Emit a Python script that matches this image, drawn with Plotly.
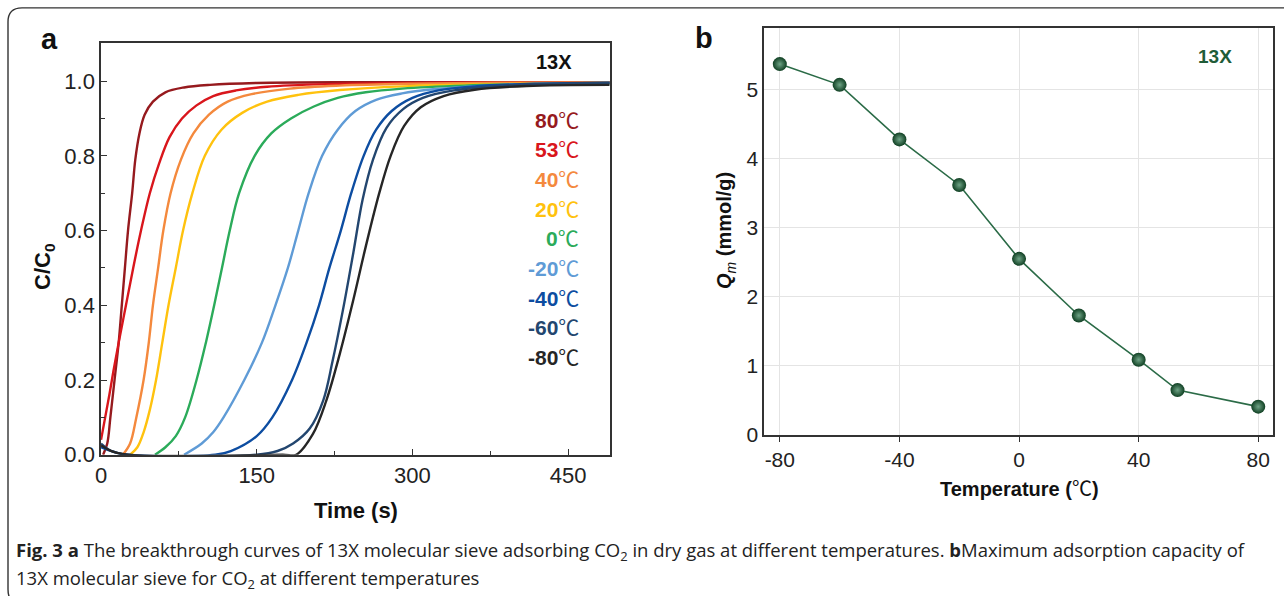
import plotly.graph_objects as go

W, H = 1284, 596

# ---------------- Panel a: breakthrough curves (time s, C/C0) ----------------
labels_a = ["80", "53", "40", "20", "0", "-20", "-40", "-60", "-80"]
colors_a = ["#961a1e", "#d9161c", "#f4893d", "#ffc20e", "#2bab5a",
            "#5f9bd6", "#0d4da1", "#23466f", "#262626"]

t_80 = [2, 6, 9, 13, 17, 20, 23, 26, 30, 33, 37, 42, 50, 62, 80, 105, 150, 250, 490]
c_80 = [0.0, 0.03, 0.1, 0.2, 0.3, 0.4, 0.5, 0.6, 0.7, 0.79, 0.86, 0.91, 0.945, 0.97, 0.983, 0.99, 0.995, 0.997, 0.997]

t_53 = [0, 4, 8, 12, 17, 24, 31, 38.5, 47, 56, 66, 78, 92, 108, 130, 160, 220, 320, 490]
c_53 = [0.04, 0.1, 0.16, 0.225, 0.3, 0.4, 0.5, 0.6, 0.7, 0.78, 0.85, 0.9, 0.935, 0.96, 0.975, 0.985, 0.992, 0.996, 0.997]

t_40 = [21, 28, 34, 41, 46, 50, 55, 60, 67, 77, 89, 104, 122, 145, 182, 230, 300, 390, 490]
c_40 = [0.0, 0.03, 0.1, 0.2, 0.3, 0.4, 0.5, 0.6, 0.7, 0.79, 0.86, 0.91, 0.945, 0.965, 0.98, 0.988, 0.993, 0.996, 0.997]

t_20 = [28, 35, 41, 47, 53, 59, 65, 72, 79, 88, 100, 116, 136, 160, 190, 230, 290, 380, 490]
c_20 = [0.0, 0.02, 0.06, 0.12, 0.2, 0.3, 0.4, 0.5, 0.6, 0.7, 0.8, 0.87, 0.915, 0.945, 0.963, 0.976, 0.986, 0.992, 0.995]

t_0 = [52, 62, 72, 81, 92, 101, 109, 116.5, 124, 133, 148, 164, 183, 205, 228, 255, 290, 350, 420, 490]
c_0 = [0.0, 0.02, 0.05, 0.1, 0.2, 0.3, 0.4, 0.5, 0.6, 0.7, 0.8, 0.86, 0.9, 0.932, 0.955, 0.97, 0.98, 0.988, 0.992, 0.994]

t_m20 = [80, 97, 108, 118, 138, 155, 168, 180, 190, 200, 213, 228, 245, 265, 290, 320, 370, 430, 490]
c_m20 = [0.0, 0.03, 0.06, 0.1, 0.2, 0.3, 0.4, 0.5, 0.6, 0.7, 0.8, 0.87, 0.92, 0.95, 0.967, 0.978, 0.988, 0.993, 0.995]

t_m40 = [0, 12, 25, 110, 125, 150, 165, 184, 198, 210, 220, 231, 241, 253, 265, 280, 300, 325, 360, 420, 490]
c_m40 = [0.02, 0.008, 0.0, 0.0, 0.01, 0.05, 0.1, 0.2, 0.3, 0.4, 0.5, 0.6, 0.7, 0.8, 0.87, 0.92, 0.955, 0.975, 0.986, 0.993, 0.996]

t_m60 = [0, 10, 25, 150, 170, 185, 201, 214, 223, 233, 243, 252, 262, 275, 291, 310, 340, 400, 490]
c_m60 = [0.03, 0.01, 0.0, 0.0, 0.01, 0.03, 0.07, 0.145, 0.25, 0.387, 0.54, 0.683, 0.79, 0.875, 0.925, 0.955, 0.975, 0.99, 0.995]

t_m80 = [0, 10, 25, 175, 188, 204, 217, 230, 243, 255, 268, 279, 292, 308, 330, 360, 410, 490]
c_m80 = [0.025, 0.01, 0.0, 0.0, 0.0, 0.055, 0.145, 0.27, 0.414, 0.557, 0.7, 0.8, 0.88, 0.93, 0.96, 0.977, 0.987, 0.99]

series_t = [t_80, t_53, t_40, t_20, t_0, t_m20, t_m40, t_m60, t_m80]
series_c = [c_80, c_53, c_40, c_20, c_0, c_m20, c_m40, c_m60, c_m80]

xticks_a = [0, 150, 300, 450]

# ---------------- Panel b: max adsorption capacity ----------------
temp_b = [-80, -60, -40, -20, 0, 20, 40, 53, 80]
qm_b = [5.37, 5.07, 4.28, 3.62, 2.55, 1.73, 1.09, 0.65, 0.41]
xticks_b = [-80, -40, 0, 40, 80]
xticklabels_b = ["-80", "-40", "0", "40", "80"]
yticks_b = [0, 1, 2, 3, 4, 5]

# the page is photographed slightly compressed: map target pixels to layout fractions
SX, OX = 0.995, 6.0
SY, OY = 0.974, 1.2


def fx(px):
    return ((px - OX) / SX) / W


def fy(py):
    return 1 - ((py - OY) / SY) / H


fig = go.Figure()

TICKFONT = "Liberation Sans Narrow, Liberation Sans, Arial, sans-serif"
BOLDFONT = "Liberation Sans, Arial, Noto Sans CJK SC, sans-serif"

for t, c, col, lab in zip(series_t, series_c, colors_a, labels_a):
    fig.add_trace(go.Scatter(
        x=t, y=c, mode="lines", name=lab + "℃",
        line=dict(color=col, width=2.4, shape="spline", smoothing=1.0),
        xaxis="x", yaxis="y", showlegend=False,
    ))

fig.add_trace(go.Scatter(
    x=temp_b, y=qm_b, mode="lines+markers",
    line=dict(color="#2b6b47", width=1.6),
    marker=dict(size=14, color="#0f3f22",
                gradient=dict(type="radial", color="#6fa486"),
                line=dict(width=0)),
    xaxis="x2", yaxis="y2", showlegend=False,
))

axline = dict(showline=True, linecolor="#333333", linewidth=1.5, mirror=True,
              zeroline=False)

fig.update_layout(
    width=W, height=H,
    margin=dict(l=0, r=0, t=0, b=0),
    paper_bgcolor="white", plot_bgcolor="white",
    showlegend=False,
    xaxis=dict(domain=[fx(101), fx(609.5)], range=[0, 490], anchor="y",
               tickmode="array", tickvals=xticks_a, ticks="inside", ticklen=6,
               tickwidth=1.3, tickcolor="#333333",
               minor=dict(tickmode="array", tickvals=[75, 225, 375], ticks="inside",
                          ticklen=4, tickcolor="#333333"),
               showgrid=False,
               tickfont=dict(family=TICKFONT, size=22, color="#222222"),
               **axline),
    yaxis=dict(domain=[fy(454), fy(44)], range=[0, 1.102], anchor="x",
               tickmode="linear", tick0=0, dtick=0.2, tickformat=".1f",
               ticks="inside", ticklen=6, tickwidth=1.3, tickcolor="#333333",
               minor=dict(dtick=0.1, ticks="inside", ticklen=4, tickcolor="#333333"),
               showgrid=False,
               tickfont=dict(family=TICKFONT, size=22, color="#222222"),
               **axline),
    xaxis2=dict(domain=[fx(764), fx(1272.5)], range=[-85.2, 84.9], anchor="y2",
                tickmode="array", tickvals=xticks_b, ticktext=xticklabels_b,
                ticks="outside", ticklen=5,
                tickwidth=1.3, tickcolor="#333333",
                showgrid=True, gridcolor="#e4e4e4", gridwidth=1,
                tickfont=dict(family=TICKFONT, size=21, color="#222222"),
                **axline),
    yaxis2=dict(domain=[fy(434.3), fy(28.6)], range=[0, 5.9], anchor="x2",
                tickmode="array", tickvals=yticks_b, ticks="",
                showgrid=True, gridcolor="#e4e4e4", gridwidth=1,
                tickfont=dict(family=TICKFONT, size=21, color="#222222"),
                **axline),
)

ann = []


def add_text(x, y, text, size, color="#111111", xanchor="center", yanchor="middle",
             family=BOLDFONT, angle=0):
    ann.append(dict(x=fx(x), y=fy(y), xref="paper", yref="paper", text=text,
                    showarrow=False, xanchor=xanchor, yanchor=yanchor, textangle=angle,
                    font=dict(family=family, size=size, color=color)))


# panel letters
add_text(49, 40, "<b>a</b>", 29)
add_text(704, 39, "<b>b</b>", 29)

# axis titles
add_text(356, 510, "<b>Time (s)</b>", 22)
add_text(44, 267, "<b>C/C<sub>0</sub></b>", 22, angle=-90)
add_text(1019, 488, "<b>Temperature (</b>℃<b>)</b>", 20)
add_text(726, 231, "<b><i>Q</i></b><sub><i>m</i></sub><b> (mmol/g)</b>", 20, angle=-90)

# 13X labels
add_text(554, 63, "<b>13X</b>", 20)
add_text(1215, 57, "<b>13X</b>", 19, color="#1f5c38")

# legend of panel a
for i, (lab, col) in enumerate(zip(labels_a, colors_a)):
    add_text(581, 121 + i * 29.5, "<b>" + lab + "</b>℃", 21, color=col, xanchor="right")

# caption
CAPFONT = "Open Sans, Noto Sans, sans-serif"
add_text(14, 550,
         "<b>Fig. 3 a</b> The breakthrough curves of 13X molecular sieve adsorbing CO<sub>2</sub> "
         "in dry gas at different temperatures. <b>b</b>Maximum adsorption capacity of",
         18.5, color="#222222", xanchor="left", family=CAPFONT)
add_text(14, 578,
         "13X molecular sieve for CO<sub>2</sub> at different temperatures",
         18.5, color="#222222", xanchor="left", family=CAPFONT)

fig.update_layout(annotations=ann)

# rounded frame around the figure
path = (f"M {fx(1310)},{fy(9)} L {fx(22)},{fy(9)} Q {fx(8)},{fy(9)} {fx(8)},{fy(23)} "
        f"L {fx(8)},{fy(588)} Q {fx(8)},{fy(603)} {fx(22)},{fy(603)} L {fx(1310)},{fy(603)}")
fig.add_shape(type="path", path=path, xref="paper", yref="paper",
              line=dict(color="#333333", width=1.4))

fig.write_html("out.html", config={"displayModeBar": False},
               post_script="document.body.style.margin='0px';document.body.style.overflow='hidden';")
